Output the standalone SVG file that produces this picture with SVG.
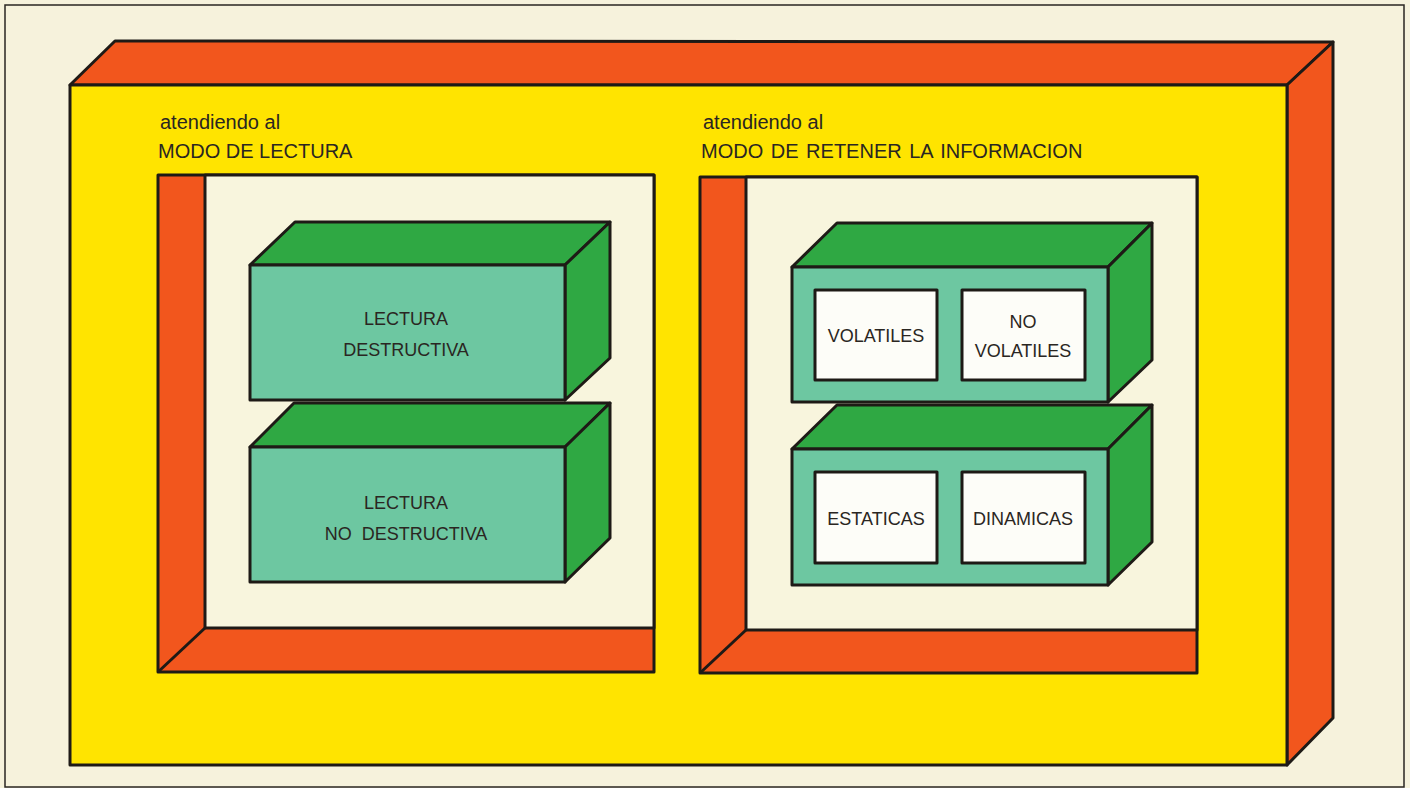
<svg xmlns="http://www.w3.org/2000/svg" width="1410" height="788" viewBox="0 0 1410 788">
<style>
.ln{stroke:#1e1a16;stroke-width:3;stroke-linejoin:round}
.yel{fill:#ffe400}
.org{fill:#f2561d}
.cream{fill:#f8f5dd}
.gr{fill:#2fa843}
.tl{fill:#6dc7a1}
.wh{fill:#fdfdf8}
.t{font-family:"Liberation Sans",Arial,sans-serif;fill:#2a2622}
.h1{font-size:20px}
.h2{font-size:20px}
.b{font-size:18px;text-anchor:middle}
</style>
<rect x="0" y="0" width="1410" height="788" fill="#f6f2dc"/>
<rect x="5" y="5" width="1399" height="782" fill="none" stroke="#2a2622" stroke-width="1.5"/>

<g id="outer-frame">
<polygon class="org ln" points="70,85 115,41 1333,42 1287,85"/>
<polygon class="org ln" points="1287,85 1333,42 1333,718 1287,765"/>
<rect class="yel ln" x="70" y="85" width="1217" height="680"/>
</g>

<g id="label-left">
<text class="t h1" x="160" y="129">atendiendo al</text>
<text class="t h2" x="158" y="158">MODO DE LECTURA</text>
</g>
<g id="label-right">
<text class="t h1" x="703" y="129">atendiendo al</text>
<text class="t h2" x="701" y="158" word-spacing="2">MODO DE RETENER LA INFORMACION</text>
</g>

<g id="frame-left">
<rect class="org ln" x="158" y="175" width="496" height="497"/>
<rect class="cream ln" x="205" y="175" width="449" height="453"/>
<line class="ln" x1="158" y1="672" x2="205" y2="628"/>
</g>

<g id="frame-right">
<rect class="org ln" x="700" y="177" width="497" height="496"/>
<rect class="cream ln" x="746" y="177" width="451" height="453"/>
<line class="ln" x1="700" y1="673" x2="746" y2="630"/>
</g>

<g id="lectura-destructiva">
<polygon class="gr ln" points="250,265 295,222 610,222 565,265"/>
<polygon class="gr ln" points="565,265 610,222 610,358 565,400"/>
<rect class="tl ln" x="250" y="265" width="315" height="135"/>
<text class="t b" x="406" y="325">LECTURA</text>
<text class="t b" x="406" y="356">DESTRUCTIVA</text>
</g>

<g id="lectura-no-destructiva">
<polygon class="gr ln" points="250,447 294,403 610,403 565,447"/>
<polygon class="gr ln" points="565,447 610,403 610,538 565,582"/>
<rect class="tl ln" x="250" y="447" width="315" height="135"/>
<text class="t b" x="406" y="509">LECTURA</text>
<text class="t b" x="406" y="540" xml:space="preserve">NO  DESTRUCTIVA</text>
</g>

<g id="volatiles-box">
<polygon class="gr ln" points="792,267 837,223 1152,223 1108,267"/>
<polygon class="gr ln" points="1108,267 1152,223 1152,360 1108,402"/>
<rect class="tl ln" x="792" y="267" width="316" height="135"/>
</g>
<g id="volatiles">
<rect class="wh ln" x="815" y="290" width="122" height="90"/>
<text class="t b" x="876" y="342">VOLATILES</text>
</g>
<g id="no-volatiles">
<rect class="wh ln" x="962" y="290" width="123" height="90"/>
<text class="t b" x="1023" y="328">NO</text>
<text class="t b" x="1023" y="357">VOLATILES</text>
</g>

<g id="estaticas-box">
<polygon class="gr ln" points="792,449 837,405 1152,405 1108,449"/>
<polygon class="gr ln" points="1108,449 1152,405 1152,542 1108,585"/>
<rect class="tl ln" x="792" y="449" width="316" height="136"/>
</g>
<g id="estaticas">
<rect class="wh ln" x="815" y="472" width="122" height="91"/>
<text class="t b" x="876" y="525">ESTATICAS</text>
</g>
<g id="dinamicas">
<rect class="wh ln" x="962" y="472" width="123" height="91"/>
<text class="t b" x="1023" y="525">DINAMICAS</text>
</g>

<g id="connectors"></g>
</svg>
